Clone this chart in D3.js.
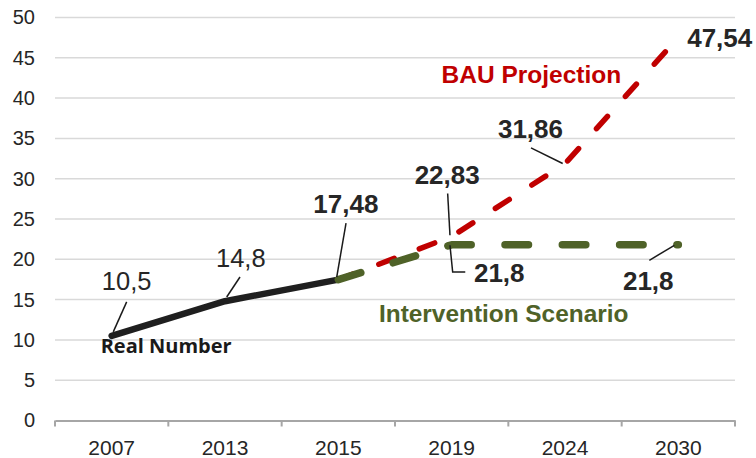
<!DOCTYPE html>
<html><head><meta charset="utf-8">
<script src="https://cdn.jsdelivr.net/npm/d3@7/dist/d3.min.js"></script>
<style>html,body{margin:0;padding:0;background:#fff;}svg{display:block;}</style>
</head><body>
<svg id="chart" width="756" height="458"></svg>
<script>
const categories = ["2007", "2013", "2015", "2019", "2024", "2030"];
const realValues = [10.5, 14.8, 17.48, null, null, null];
const bauValues = [null, null, 17.48, 22.83, 31.86, 47.54];
const interventionValues = [null, null, 17.48, 21.8, 21.8, 21.8];
const yTicks = [0, 5, 10, 15, 20, 25, 30, 35, 40, 45, 50];
const seriesNames = ["Real Number", "BAU Projection", "Intervention Scenario"];

const svg = d3.select("#chart");
const x = d3.scaleBand().domain(categories).range([55, 735]);
const y = d3.scaleLinear().domain([0, 50]).range([420.5, 17.5]);
const cx = c => x(c) + x.bandwidth() / 2;
const fmt = v => d3.format("")(v).replace(".", ",");

// gridlines
svg.append("g").selectAll("line").data(yTicks.filter(t => t > 0)).join("line")
  .attr("x1", 55).attr("x2", 735)
  .attr("y1", d => y(d)).attr("y2", d => y(d))
  .attr("stroke", "#d9d9d9").attr("stroke-width", 1.5);

// y axis labels
svg.append("g").attr("transform", "translate(55,0)")
  .call(d3.axisLeft(y).tickValues(yTicks).tickSize(0).tickPadding(20))
  .call(g => g.select(".domain").remove())
  .call(g => g.selectAll("text").attr("font-family", "Liberation Sans, Arial, sans-serif")
    .attr("font-size", 20).attr("fill", "#262626"));

// x axis
const xAxis = svg.append("g").attr("transform", "translate(0,420.5)")
  .call(d3.axisBottom(x).tickSize(0).tickPadding(20));
xAxis.select(".domain").attr("stroke", "#a6a6a6").attr("stroke-width", 2);
xAxis.selectAll("text").attr("font-family", "Liberation Sans, Arial, sans-serif")
  .attr("font-size", 21).attr("fill", "#262626");
const bounds = categories.map(c => x(c)).concat([x.range()[1]]);
xAxis.selectAll(".bnd").data(bounds).join("line").attr("class", "bnd")
  .attr("x1", d => d).attr("x2", d => d).attr("y1", 0).attr("y2", 6)
  .attr("stroke", "#a6a6a6").attr("stroke-width", 2);

function pts(vals) { return categories.map((c, i) => ({c, v: vals[i]})); }
const line = d3.line().defined(d => d.v != null).x(d => cx(d.c)).y(d => y(d.v));

svg.append("path").datum(pts(realValues)).attr("d", line)
  .attr("fill", "none").attr("stroke", "#1f1f1f").attr("stroke-width", 6.5)
  .attr("stroke-linecap", "round").attr("stroke-linejoin", "round");
svg.append("path").datum(pts(bauValues)).attr("d", line)
  .attr("fill", "none").attr("stroke", "#c00000").attr("stroke-width", 5.5)
  .attr("stroke-dasharray", "16.5,26.8")
  .attr("stroke-linecap", "round").attr("stroke-linejoin", "round");
svg.append("path").datum(pts(interventionValues)).attr("d", line)
  .attr("fill", "none").attr("stroke", "#4f6228").attr("stroke-width", 7.5)
  .attr("stroke-dasharray", "23.5,33.8")
  .attr("stroke-linecap", "round").attr("stroke-linejoin", "round");

// data labels: [category, value, bold, label dx, label dy(baseline), leader points relative to data point]
const labels = [
  {c: "2007", v: realValues[0], bold: false, dx: 15, dy: -45.5, lead: [[15, -34], [1.6, -4]]},
  {c: "2013", v: realValues[1], bold: false, dx: 15.8, dy: -34.2, lead: [[15, -24.2], [1.7, -4.2]]},
  {c: "2015", v: realValues[2], bold: true, dx: 7.5, dy: -66.6, lead: [[7.7, -56.6], [-1.6, -2.6]]},
  {c: "2019", v: bauValues[3], bold: true, dx: -4.5, dy: -52.9, lead: [[-4, -43], [-1.7, -1.2]]},
  {c: "2024", v: bauValues[4], bold: true, dx: -34.5, dy: -26.2, lead: [[-34, -15.8], [-2.3, -0.2]]},
  {c: "2030", v: bauValues[5], bold: true, dx: 41.4, dy: 9.4, lead: null},
  {c: "2019", v: interventionValues[3], bold: true, dx: 47.6, dy: 37.2, lead: [[-1.7, 0.5], [1, 27.2], [13.6, 27.2]]},
  {c: "2030", v: interventionValues[5], bold: true, dx: -30.1, dy: 45.5, lead: [[-29, 15.5], [-4, 0.5]]}
];
labels.forEach(l => {
  const px = cx(l.c), py = y(l.v);
  if (l.lead) {
    svg.append("path")
      .attr("d", d3.line()(l.lead.map(p => [px + p[0], py + p[1]])))
      .attr("fill", "none").attr("stroke", "#1a1a1a").attr("stroke-width", 1.5);
  }
  svg.append("text").attr("x", px + l.dx).attr("y", py + l.dy)
    .attr("text-anchor", "middle")
    .attr("font-family", "Liberation Sans, Arial, sans-serif")
    .attr("font-size", l.bold ? 26 : 25.5)
    .attr("font-weight", l.bold ? "bold" : "normal")
    .attr("fill", "#262626").text(fmt(l.v));
});

// series name labels
svg.append("text").attr("x", cx("2007") - 11).attr("y", y(realValues[0]) + 17)
  .attr("font-family", "Open Sans, sans-serif").attr("font-weight", "bold")
  .attr("font-size", 20).attr("fill", "#1a1a1a").text(seriesNames[0]);
svg.append("text").attr("x", 441.5).attr("y", y(bauValues[5]) + 45.5)
  .attr("font-family", "Liberation Sans, Arial, sans-serif").attr("font-weight", "bold")
  .attr("font-size", 24.5).attr("fill", "#c00000").text(seriesNames[1]);
svg.append("text").attr("x", 379).attr("y", y(interventionValues[5]) + 77)
  .attr("font-family", "Liberation Sans, Arial, sans-serif").attr("font-weight", "bold")
  .attr("font-size", 24.4).attr("fill", "#4f6228").text(seriesNames[2]);
</script>
</body></html>
